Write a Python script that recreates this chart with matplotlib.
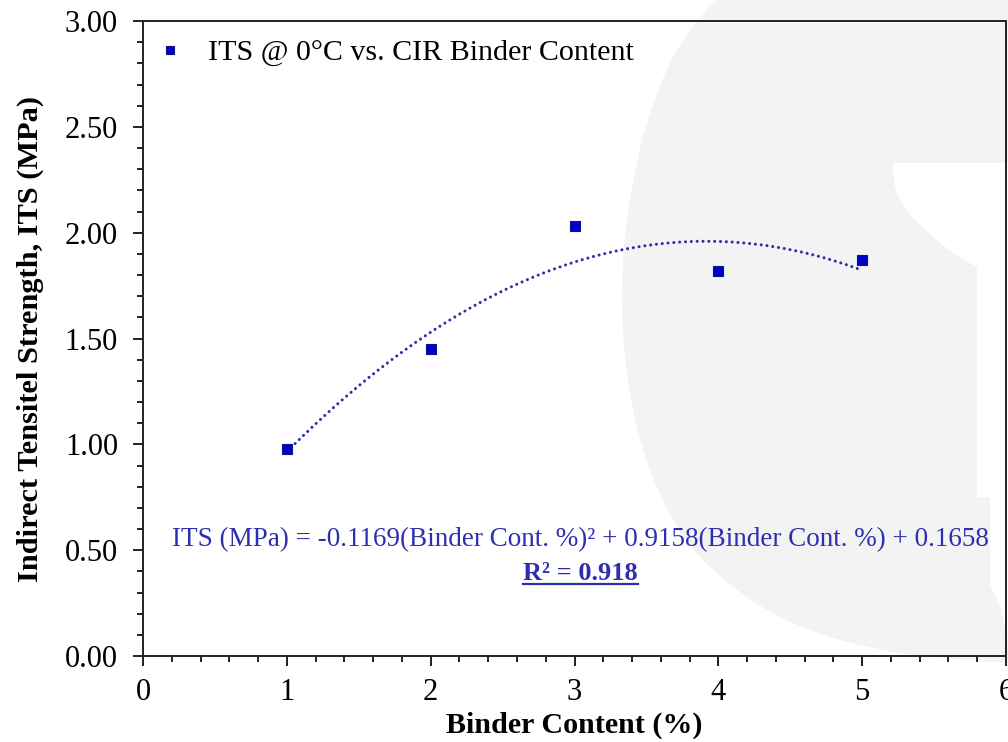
import matplotlib
matplotlib.use("Agg")
import matplotlib.pyplot as plt
from matplotlib.patches import Polygon
from matplotlib.lines import Line2D
from matplotlib.ticker import MultipleLocator, FormatStrFormatter
import numpy as np

# data
binder = [1, 2, 3, 4, 5]
its = [0.98, 1.45, 2.03, 1.82, 1.87]
# printed trendline coefficients (a*x^2 + b*x + c)
coef = [-0.1169, 0.9158, 0.1658]
r2 = 0.918

plt.rcParams['font.family'] = ['Liberation Serif', 'DejaVu Serif']

W, H = 1008, 742
fig = plt.figure(figsize=(W / 100, H / 100), dpi=100)
fig.patch.set_facecolor('white')


def px(pts):
    # pixel coords with y from the top -> display coords
    return [(x, H - y) for x, y in pts]


def smooth(pts, n=12):
    # catmull-rom through the outline points, only to round off the watermark
    p = np.asarray(pts, float)
    p = np.vstack([p[0], p, p[-1]])
    out = []
    for i in range(1, len(p) - 2):
        p0, p1, p2, p3 = p[i - 1], p[i], p[i + 1], p[i + 2]
        for t in np.linspace(0, 1, n, endpoint=False):
            t2, t3 = t * t, t * t * t
            out.append(0.5 * ((2 * p1) + (-p0 + p2) * t +
                              (2 * p0 - 5 * p1 + 4 * p2 - p3) * t2 +
                              (-p0 + 3 * p1 - 3 * p2 + p3) * t3))
    out.append(p[-2])
    return [tuple(q) for q in out]


# faint logo watermark behind the plot
edge = [(745, -10), (717, 0), (677, 50), (648, 120), (630, 200), (622, 290),
        (628, 380), (650, 470), (690, 545), (747, 597), (810, 630), (893, 652),
        (993, 662), (1015, 665)]
blob = smooth(edge) + [(1015, -10)]
fig.patches.append(Polygon(px(blob), closed=True, transform=None,
                           facecolor='#f3f3f3', edgecolor='none', zorder=-2))
cup = [(893, 163), (896, 190), (910, 214), (932, 236), (955, 254), (977, 267)]
cut = smooth(cup) + [(977, 497), (990, 497), (990, 585), (1000, 605),
                     (1008, 640), (1015, 640), (1015, 163)]
fig.patches.append(Polygon(px(cut), closed=True, transform=None,
                           facecolor='white', edgecolor='none', zorder=-1))

ax = fig.add_axes([143 / W, 1 - 656 / H, (1006 - 143) / W, (656 - 21) / H])
ax.patch.set_alpha(0)

# trendline
xs = np.linspace(binder[0], binder[-1], 200)
ax.plot(xs, np.polyval(coef, xs), color='#2e2ea6', lw=2.2,
        linestyle=(0, (0.01, 1.9)), dash_capstyle='round', zorder=2)

ax.plot(binder, its, linestyle='none', marker='s', markersize=7.2,
        markerfacecolor='#0000cc', markeredgecolor='#10108a', markeredgewidth=0.8,
        label='ITS @ 0°C vs. CIR Binder Content', zorder=3)

ax.set_xlim(0, 6)
ax.set_ylim(0, 3)
ax.xaxis.set_major_locator(MultipleLocator(1))
ax.xaxis.set_minor_locator(MultipleLocator(0.2))
ax.yaxis.set_major_locator(MultipleLocator(0.5))
ax.yaxis.set_minor_locator(MultipleLocator(0.1))
ax.yaxis.set_major_formatter(FormatStrFormatter('%.2f'))

for s in ax.spines.values():
    s.set_linewidth(1.4)
    s.set_color('#222222')

ax.tick_params(which='major', direction='out', length=7, width=1.4,
               labelsize=22, color='#222222')
ax.tick_params(which='minor', direction='out', length=4.5, width=1.4, color='#222222')
ax.tick_params(axis='x', which='major', pad=9)
ax.tick_params(axis='y', which='major', pad=11)

ax.set_xlabel('Binder Content (%)', fontsize=21.6, fontweight='bold', labelpad=3)
ax.set_ylabel('Indirect Tensitel Strength, ITS (MPa)', fontsize=21.9,
              fontweight='bold', labelpad=15)

ax.legend(loc='upper left', frameon=False, fontsize=21.6, markerscale=0.8,
          handlelength=0.6, handletextpad=0.95, borderaxespad=0.2,
          bbox_to_anchor=(0.0, 1.0))

eq = ('ITS (MPa) = %.4f(Binder Cont. %%)² + %.4f(Binder Cont. %%) + %.4f'
      % (coef[0], coef[1], coef[2]))
et = ax.text(3.04, 0.548, eq, color='#2e2eb0', fontsize=19, ha='center', va='center')
rt = ax.text(3.04, 0.39, 'R² = %.3f' % r2, color='#2e2eb0', fontsize=19,
             fontweight='bold', ha='center', va='center')

# fit the equation to its width in the reference
fig.canvas.draw()
w = et.get_window_extent().width
et.set_fontsize(19 * 820 / w)
fig.canvas.draw()

# underline the R² label
bb = rt.get_window_extent()
fig.add_artist(Line2D([bb.x0, bb.x1], [bb.y0 + 1, bb.y0 + 1], transform=None,
                      color='#2e2eb0', lw=1.6))

fig.savefig('out.png', dpi=100)
